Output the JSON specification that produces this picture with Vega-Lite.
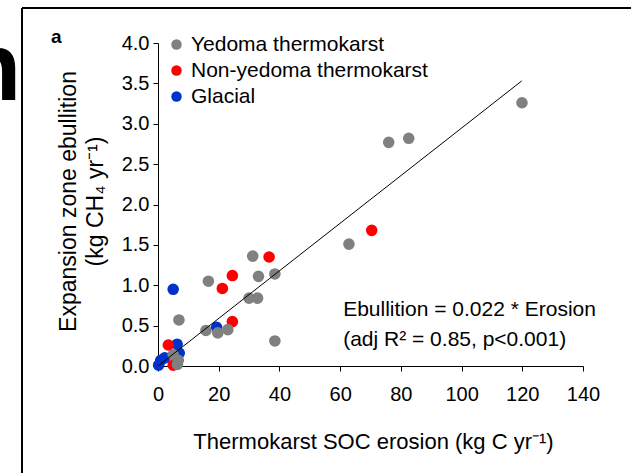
{
  "$schema": "https://vega.github.io/schema/vega-lite/v6.json",
  "width": 425,
  "height": 323,
  "autosize": {"type": "none"},
  "padding": {"left": 158, "top": 43, "right": 48, "bottom": 107},
  "background": "white",
  "config": {
    "view": {"stroke": null},
    "font": "Liberation Sans",
    "axis": {"labelFont": "Liberation Sans", "titleFont": "Liberation Sans", "labelColor": "black", "titleColor": "black", "domainColor": "black", "tickColor": "black", "grid": false, "titleFontWeight": "normal"}
  },
  "datasets": {
    "pts": [
      {"x": 0.2, "y": 0.01, "type": "Glacial"},
      {"x": 0.9, "y": 0.07, "type": "Glacial"},
      {"x": 2.2, "y": 0.1, "type": "Glacial"},
      {"x": 6.3, "y": 0.27, "type": "Glacial"},
      {"x": 7.0, "y": 0.16, "type": "Glacial"},
      {"x": 5.0, "y": 0.95, "type": "Glacial"},
      {"x": 19.3, "y": 0.48, "type": "Glacial"},
      {"x": 70.4, "y": 1.68, "type": "Non-yedoma thermokarst"},
      {"x": 36.6, "y": 1.35, "type": "Non-yedoma thermokarst"},
      {"x": 24.5, "y": 1.12, "type": "Non-yedoma thermokarst"},
      {"x": 21.2, "y": 0.96, "type": "Non-yedoma thermokarst"},
      {"x": 24.5, "y": 0.55, "type": "Non-yedoma thermokarst"},
      {"x": 3.4, "y": 0.26, "type": "Non-yedoma thermokarst"},
      {"x": 5.0, "y": 0.01, "type": "Non-yedoma thermokarst"},
      {"x": 119.9, "y": 3.26, "type": "Yedoma thermokarst"},
      {"x": 76.0, "y": 2.77, "type": "Yedoma thermokarst"},
      {"x": 82.6, "y": 2.82, "type": "Yedoma thermokarst"},
      {"x": 62.9, "y": 1.51, "type": "Yedoma thermokarst"},
      {"x": 31.2, "y": 1.36, "type": "Yedoma thermokarst"},
      {"x": 33.1, "y": 1.11, "type": "Yedoma thermokarst"},
      {"x": 38.5, "y": 1.14, "type": "Yedoma thermokarst"},
      {"x": 16.6, "y": 1.05, "type": "Yedoma thermokarst"},
      {"x": 30.0, "y": 0.84, "type": "Yedoma thermokarst"},
      {"x": 32.8, "y": 0.84, "type": "Yedoma thermokarst"},
      {"x": 15.8, "y": 0.44, "type": "Yedoma thermokarst"},
      {"x": 19.7, "y": 0.41, "type": "Yedoma thermokarst"},
      {"x": 23.0, "y": 0.45, "type": "Yedoma thermokarst"},
      {"x": 38.5, "y": 0.31, "type": "Yedoma thermokarst"},
      {"x": 6.9, "y": 0.57, "type": "Yedoma thermokarst"},
      {"x": 5.0, "y": 0.14, "type": "Yedoma thermokarst"},
      {"x": 6.7, "y": 0.07, "type": "Yedoma thermokarst"},
      {"x": 6.4, "y": 0.02, "type": "Yedoma thermokarst"}
    ],
    "fit": [{"x": 0, "y": 0, "x2": 119.8, "y2": 3.53}],
    "frame": [
      {"x": -44.8, "y": 4.433, "x2": 160, "y2": 4.433},
      {"x": -44.8, "y": 4.433, "x2": -44.8, "y2": -1.5}
    ],
    "notes": [
      {"x": 61, "y": 0.69, "label": "Ebullition = 0.022 * Erosion"},
      {"x": 61, "y": 0.32, "label": "(adj R² = 0.85, p<0.001)"}
    ],
    "panel": [{"x": -33.5, "y": 4.08, "label": "a"}],
    "frag": [{"x": -45.1, "y": 3.294, "label": "n"}]
  },
  "layer": [
    {
      "data": {"name": "pts"},
      "mark": {"type": "point", "filled": true, "opacity": 1, "size": 135, "shape": "circle"},
      "encoding": {
        "x": {"field": "x", "type": "quantitative",
          "scale": {"domain": [0, 140], "nice": false, "zero": false},
          "axis": {"values": [0, 20, 40, 60, 80, 100, 120, 140], "tickSize": 5, "labelFontSize": 20, "labelPadding": 13, "labelFlush": false,
            "title": "Thermokarst SOC erosion (kg C yr⁻¹)", "titleFontSize": 22, "titleX": 215, "titleY": 82, "titleBaseline": "alphabetic", "titleAlign": "center"}},
        "y": {"field": "y", "type": "quantitative",
          "scale": {"domain": [0, 4], "nice": false, "zero": false},
          "axis": {"values": [0, 0.5, 1, 1.5, 2, 2.5, 3, 3.5, 4], "format": ".1f", "tickSize": 5, "labelFontSize": 20, "labelPadding": 4, "labelFlush": false,
            "title": ["Expansion zone ebullition", "(kg CH₄ yr⁻¹)"], "titleFontSize": 23, "titleLineHeight": 27, "titleAngle": -90, "titleX": -90, "titleY": 158, "titleBaseline": "middle", "titleAlign": "center"}},
        "color": {"field": "type", "type": "nominal",
          "scale": {"domain": ["Yedoma thermokarst", "Non-yedoma thermokarst", "Glacial"], "range": ["#808080", "#FF0000", "#0033CC"]},
          "legend": {"title": null, "orient": "none", "legendX": 8, "legendY": -9, "padding": 0, "labelFontSize": 21, "labelColor": "black", "labelLimit": 0, "symbolType": "circle", "symbolSize": 110, "symbolStrokeWidth": 0, "labelOffset": 4, "rowPadding": 4}}
      }
    },
    {
      "data": {"name": "frame"},
      "mark": {"type": "rule", "color": "black", "strokeWidth": 2},
      "encoding": {
        "x": {"field": "x", "type": "quantitative"},
        "y": {"field": "y", "type": "quantitative"},
        "x2": {"field": "x2"},
        "y2": {"field": "y2"}
      }
    },
    {
      "data": {"name": "fit"},
      "mark": {"type": "rule", "color": "black", "strokeWidth": 1},
      "encoding": {
        "x": {"field": "x", "type": "quantitative"},
        "y": {"field": "y", "type": "quantitative"},
        "x2": {"field": "x2"},
        "y2": {"field": "y2"}
      }
    },
    {
      "data": {"name": "notes"},
      "mark": {"type": "text", "align": "left", "baseline": "middle", "fontSize": 21, "color": "black"},
      "encoding": {
        "x": {"field": "x", "type": "quantitative"},
        "y": {"field": "y", "type": "quantitative"},
        "text": {"field": "label"}
      }
    },
    {
      "data": {"name": "panel"},
      "mark": {"type": "text", "align": "center", "baseline": "middle", "fontSize": 19, "fontWeight": "bold", "color": "black"},
      "encoding": {
        "x": {"field": "x", "type": "quantitative"},
        "y": {"field": "y", "type": "quantitative"},
        "text": {"field": "label"}
      }
    },
    {
      "data": {"name": "frag"},
      "mark": {"type": "text", "align": "right", "baseline": "alphabetic", "fontSize": 96, "fontWeight": "bold", "color": "black"},
      "encoding": {
        "x": {"field": "x", "type": "quantitative"},
        "y": {"field": "y", "type": "quantitative"},
        "text": {"field": "label"}
      }
    }
  ]
}
